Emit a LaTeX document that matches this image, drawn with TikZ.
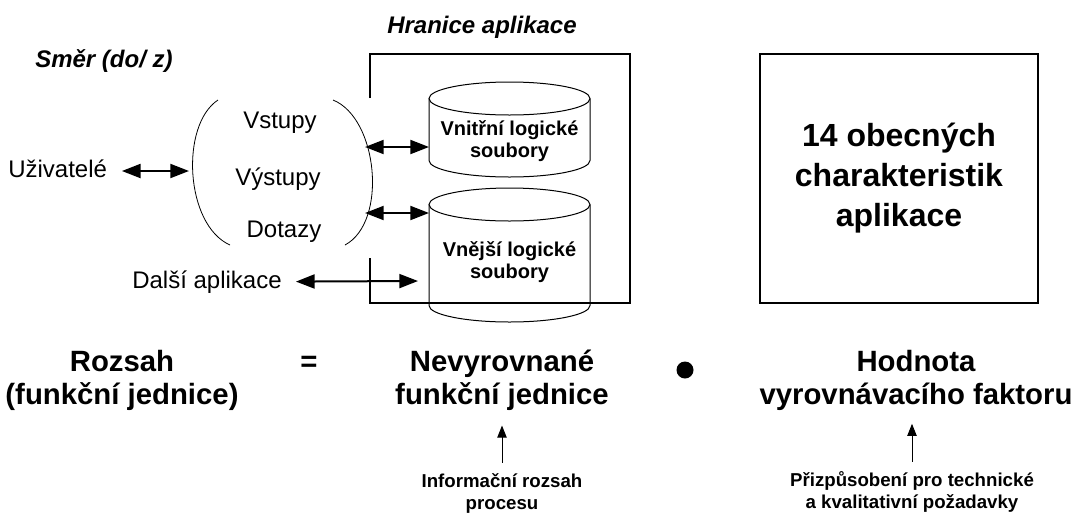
\documentclass[tikz,border=0pt]{standalone}
\usepackage{fontspec}
\setmainfont{Liberation Sans}
\usepackage{tikz}
\usetikzlibrary{arrows.meta}
\tikzstyle{txt}=[inner sep=0pt,font=\fontsize{18}{21}\selectfont]

\begin{document}
\begin{tikzpicture}[x=0.75pt,y=-0.75pt]
	\tikzstyle{titul}=[inner sep=0pt,font=\fontsize{18}{21}\selectfont\bfseries\itshape]
	\tikzstyle{sklad}=[inner sep=0pt,align=center,font=\fontsize{15}{17}\selectfont\bfseries]
	\tikzstyle{vzorec}=[inner sep=0pt,align=center,font=\fontsize{22}{24.75}\selectfont\bfseries]
	\tikzstyle{pozn}=[inner sep=0pt,align=center,font=\fontsize{14}{16.5}\selectfont\bfseries]
	\tikzstyle{tok}=[line width=1.5pt,{Triangle[length=14pt,width=10.5pt]}-{Triangle[length=14pt,width=10.5pt]}]
	\tikzstyle{sipka}=[line width=0.75pt,-{Triangle[length=9pt,width=7pt]}]
	\tikzstyle{obrys}=[line width=0.75pt]
	\useasboundingbox (0,0) rectangle (1072,515);

	% hranice aplikace
	\node[titul,anchor=base west] (hranice) at (387,33) {Hranice aplikace};
	\draw[line width=1.5pt] (370,98) -- (370,54) -- (630,54) -- (630,303) -- (370,303) -- (370,258);

	% smer a zavorka
	\node[titul,anchor=base west] (smer) at (35,67) {Směr (do/ z)};
	\draw[line width=0.6pt] (218,100) .. controls (180,125) and (185,225) .. (230,245);
	\draw[line width=0.6pt] (333,100) .. controls (378,118) and (388,222) .. (345,245);
	\node[txt,anchor=base] (vstupy) at (280,128) {Vstupy};
	\node[txt,anchor=base] (vystupy) at (278,185) {Výstupy};
	\node[txt,anchor=base] (dotazy) at (284,237) {Dotazy};
	\node[txt,anchor=base west] (uziv) at (8,177) {Uživatelé};
	\node[txt,anchor=base west] (dalsi) at (132,288) {Další aplikace};

	% soubory
	\draw[obrys] (429,98.5) -- (429,160.5) arc[start angle=180,end angle=0,x radius=80.5,y radius=16.5] -- (590,98.5);
	\draw[obrys] (509.5,98.5) ellipse[x radius=80.5,y radius=16.5];
	\draw[obrys] (429,204.5) -- (429,305.5) arc[start angle=180,end angle=0,x radius=80.5,y radius=16.5] -- (590,204.5);
	\draw[obrys] (509.5,204.5) ellipse[x radius=80.5,y radius=16.5];
	\node[sklad] (vnitrni) at (509.5,141) {Vnitřní logické\\soubory};
	\node[sklad] (vnejsi) at (509.5,262) {Vnější logické\\soubory};

	\coordinate (zl) at (189,171);
	\coordinate (zp1) at (365,147);
	\coordinate (zp2) at (365,213);
	\coordinate (s1) at (429,147);
	\coordinate (s2) at (429,213);
	\coordinate (s3) at (418,281);
	\draw[tok,shorten <=11pt] (uziv.east |- zl) -- (zl);
	\draw[tok] (zp1) -- (s1);
	\draw[tok] (zp2) -- (s2);
	\draw[tok,shorten <=10.5pt] (dalsi.east) -- (s3);

	% charakteristiky
	\node[draw,line width=1pt,minimum width=208.5pt,minimum height=186.75pt,align=center,
		font=\fontsize{24}{30}\selectfont\bfseries] (obecne) at (899,178.5) {14 obecných\\charakteristik\\aplikace};

	% vzorec
	\node[vzorec] (rozsah) at (122,380) {Rozsah\\(funkční jednice)};
	\node[vzorec,anchor=base] (rovno) at (309,371) {=};
	\node[vzorec] (nevyr) at (502,380) {Nevyrovnané\\funkční jednice};
	\node[circle,fill,minimum size=12.75pt,inner sep=0pt] (tecka) at (685,370) {};
	\node[vzorec] (hodnota) at (916,380) {Hodnota\\vyrovnávacího faktoru};

	\node[pozn] (info) at (502,493) {Informační rozsah\\procesu};
	\node[pozn] (prizp) at (912,492) {Přizpůsobení pro technické\\a kvalitativní požadavky};
	\draw[sipka,shorten <=7.5pt,shorten >=11.25pt] (info.north) -- (nevyr.south);
	\draw[sipka,shorten <=7pt,shorten >=10pt] (prizp.north) -- (prizp.north |- hodnota.south);
\end{tikzpicture}
\end{document}
